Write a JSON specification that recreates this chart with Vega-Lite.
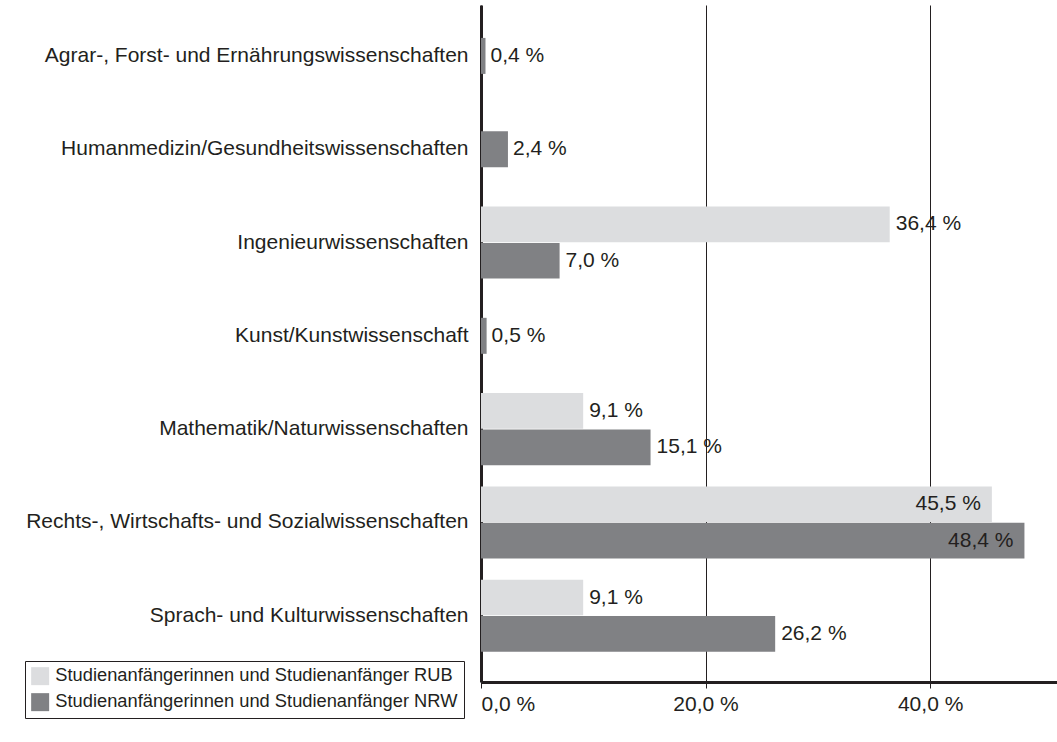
{
  "$schema": "https://vega.github.io/schema/vega-lite/v6.json",
  "autosize": "none",
  "padding": {"left": 481, "top": 5, "right": 0, "bottom": 60},
  "width": 576,
  "height": 677,
  "background": "white",
  "config": {
    "font": "Liberation Sans",
    "view": {"stroke": null}
  },
  "data": {
    "values": [
      {"Fach": "Agrar-, Forst- und Ernährungswissenschaften", "Serie": "Studienanfängerinnen und Studienanfänger NRW", "Wert": 0.4},
      {"Fach": "Humanmedizin/Gesundheitswissenschaften", "Serie": "Studienanfängerinnen und Studienanfänger NRW", "Wert": 2.4},
      {"Fach": "Ingenieurwissenschaften", "Serie": "Studienanfängerinnen und Studienanfänger RUB", "Wert": 36.4},
      {"Fach": "Ingenieurwissenschaften", "Serie": "Studienanfängerinnen und Studienanfänger NRW", "Wert": 7.0},
      {"Fach": "Kunst/Kunstwissenschaft", "Serie": "Studienanfängerinnen und Studienanfänger NRW", "Wert": 0.5},
      {"Fach": "Mathematik/Naturwissenschaften", "Serie": "Studienanfängerinnen und Studienanfänger RUB", "Wert": 9.1},
      {"Fach": "Mathematik/Naturwissenschaften", "Serie": "Studienanfängerinnen und Studienanfänger NRW", "Wert": 15.1},
      {"Fach": "Rechts-, Wirtschafts- und Sozialwissenschaften", "Serie": "Studienanfängerinnen und Studienanfänger RUB", "Wert": 45.5},
      {"Fach": "Rechts-, Wirtschafts- und Sozialwissenschaften", "Serie": "Studienanfängerinnen und Studienanfänger NRW", "Wert": 48.4},
      {"Fach": "Sprach- und Kulturwissenschaften", "Serie": "Studienanfängerinnen und Studienanfänger RUB", "Wert": 9.1},
      {"Fach": "Sprach- und Kulturwissenschaften", "Serie": "Studienanfängerinnen und Studienanfänger NRW", "Wert": 26.2}
    ]
  },
  "transform": [
    {"joinaggregate": [{"op": "count", "field": "Wert", "as": "n"}], "groupby": ["Fach"]},
    {"calculate": "replace(format(datum.Wert, '.1f'), '.', ',') + ' %'", "as": "label"}
  ],
  "encoding": {
    "y": {
      "field": "Fach",
      "type": "nominal",
      "title": null,
      "scale": {
        "domain": ["Agrar-, Forst- und Ernährungswissenschaften", "Humanmedizin/Gesundheitswissenschaften", "Ingenieurwissenschaften", "Kunst/Kunstwissenschaft", "Mathematik/Naturwissenschaften", "Rechts-, Wirtschafts- und Sozialwissenschaften", "Sprach- und Kulturwissenschaften"],
        "paddingInner": 0.228,
        "paddingOuter": 0.242,
        "align": 0.33
      },
      "axis": {
        "domain": true,
        "domainColor": "#231f20",
        "domainWidth": 3,
        "ticks": false,
        "labelPadding": 13,
        "labelFontSize": 21,
        "labelColor": "#231f20",
        "labelLimit": 600,
        "labelFont": "Liberation Sans"
      }
    },
    "x": {
      "field": "Wert",
      "type": "quantitative",
      "title": null,
      "stack": null,
      "scale": {"domain": [0, 51.3], "nice": false},
      "axis": {
        "values": [0, 20, 40],
        "labelExpr": "replace(format(datum.value, '.1f'), '.', ',') + ' %'",
        "domainColor": "#231f20",
        "domainWidth": 3,
        "tickColor": "#231f20",
        "tickSize": 6,
        "tickWidth": 1,
        "labelPadding": 5,
        "labelFontSize": 21,
        "labelColor": "#231f20",
        "labelFont": "Liberation Sans",
        "grid": true,
        "gridColor": "#231f20",
        "gridWidth": 1,
        "gridOpacity": 1
      }
    }
  },
  "layer": [
    {
      "transform": [{"filter": "datum.n == 2"}],
      "mark": {"type": "bar"},
      "encoding": {
        "yOffset": {"field": "Serie", "type": "nominal", "scale": {"domain": ["Studienanfängerinnen und Studienanfänger RUB", "Studienanfängerinnen und Studienanfänger NRW"], "paddingInner": 0.02}},
        "color": {
          "field": "Serie",
          "type": "nominal",
          "scale": {"domain": ["Studienanfängerinnen und Studienanfänger RUB", "Studienanfängerinnen und Studienanfänger NRW"], "range": ["#dcdddf", "#808184"]},
          "legend": {
            "title": null,
            "orient": "none",
            "legendX": -456,
            "legendY": 656,
            "direction": "vertical",
            "symbolType": "square",
            "symbolSize": 324,
            "symbolStrokeWidth": 0,
            "labelFontSize": 18.3,
            "labelFont": "Liberation Sans",
            "labelColor": "#231f20",
            "labelLimit": 600,
            "labelOffset": 6,
            "rowPadding": 6,
            "padding": 6,
            "strokeColor": "#231f20",
            "fillColor": "white"
          }
        }
      }
    },
    {
      "transform": [{"filter": "datum.n == 1"}],
      "mark": {"type": "bar", "height": 36},
      "encoding": {
        "color": {"field": "Serie", "type": "nominal"}
      }
    },
    {
      "transform": [{"filter": "datum.n == 2 && datum.Wert < 40"}],
      "mark": {"type": "text", "align": "left", "baseline": "middle", "dx": 6, "fontSize": 21, "font": "Liberation Sans", "color": "#231f20"},
      "encoding": {
        "yOffset": {"field": "Serie", "type": "nominal"},
        "text": {"field": "label", "type": "nominal"}
      }
    },
    {
      "transform": [{"filter": "datum.n == 2 && datum.Wert >= 40"}],
      "mark": {"type": "text", "align": "right", "baseline": "middle", "dx": -11, "fontSize": 21, "font": "Liberation Sans", "color": "#231f20"},
      "encoding": {
        "yOffset": {"field": "Serie", "type": "nominal"},
        "text": {"field": "label", "type": "nominal"}
      }
    },
    {
      "transform": [{"filter": "datum.n == 1"}],
      "mark": {"type": "text", "align": "left", "baseline": "middle", "dx": 5, "fontSize": 21, "font": "Liberation Sans", "color": "#231f20"},
      "encoding": {
        "text": {"field": "label", "type": "nominal"}
      }
    }
  ]
}
